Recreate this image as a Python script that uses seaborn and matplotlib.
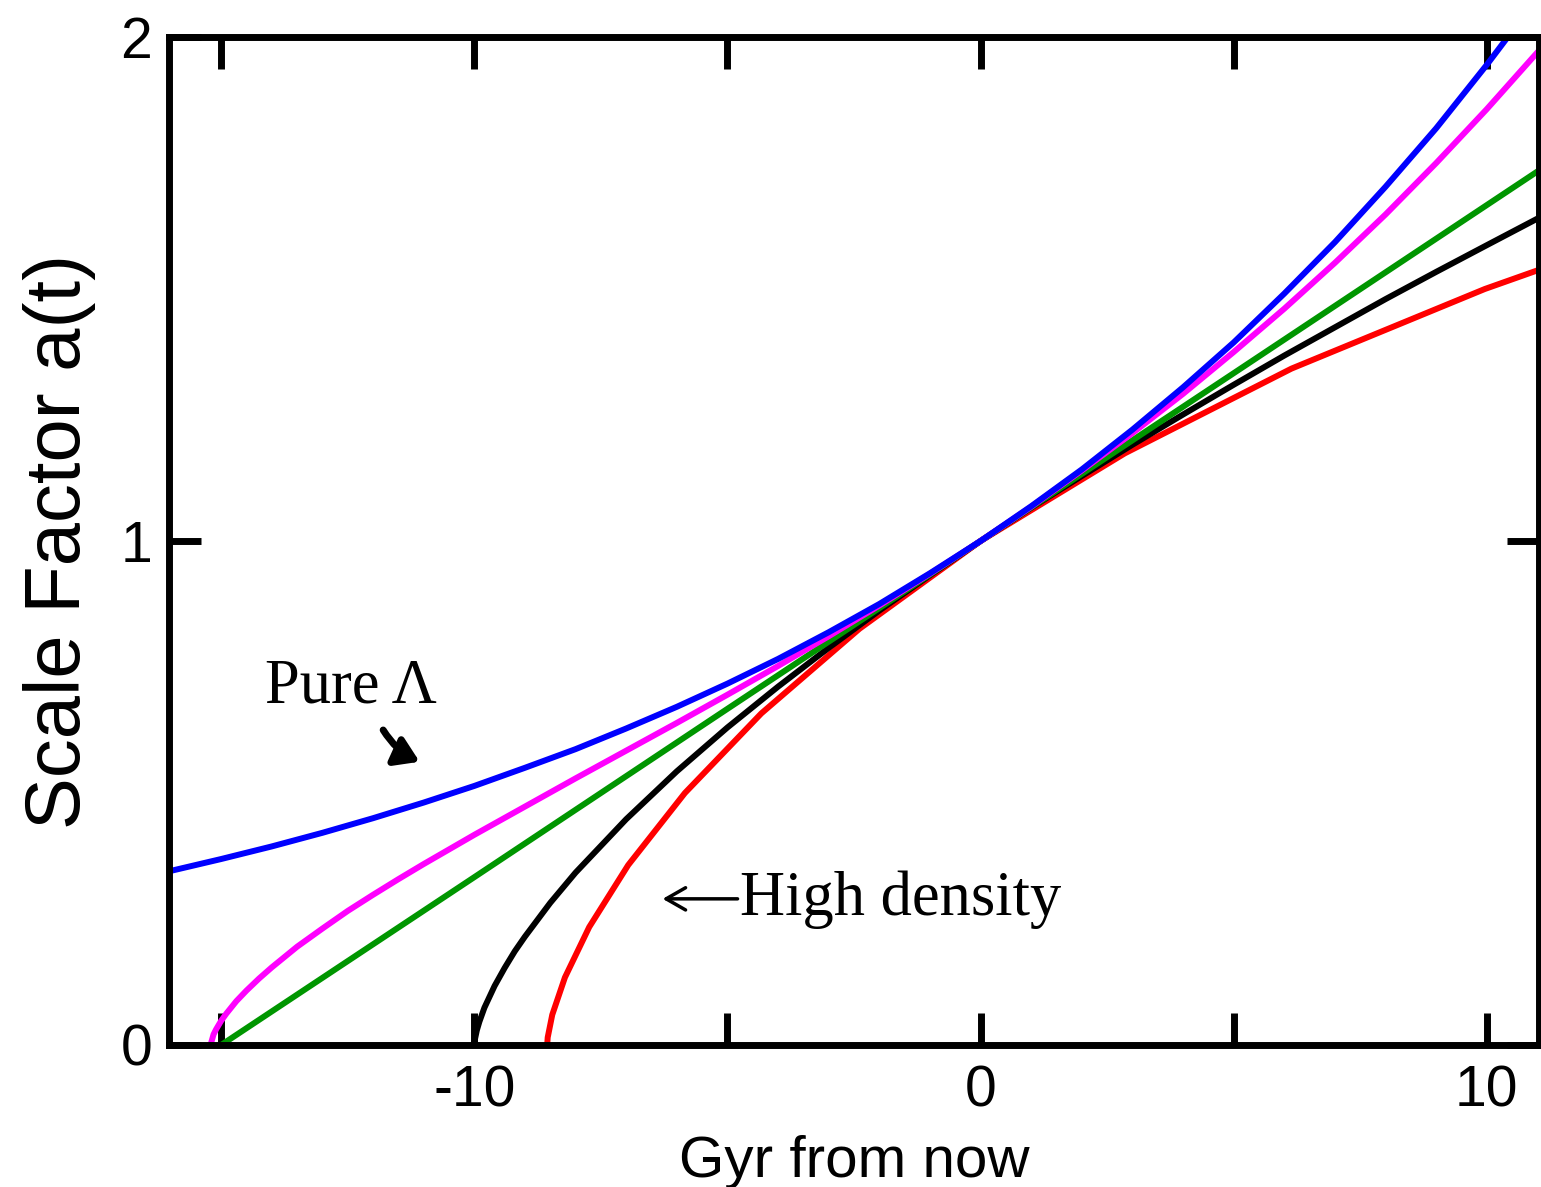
import matplotlib
matplotlib.use("Agg")
import matplotlib.pyplot as plt
import seaborn as sns
import pandas as pd

# ---- data (t in Gyr from now, a = scale factor) ----
red_t = [-8.56, -8.55, -8.46, -8.21, -7.73, -6.96, -5.84, -4.33, -2.39, 0.0, 2.85, 6.14, 9.96, 13.98]
red_a = [0.0, 0.015, 0.060, 0.134, 0.234, 0.357, 0.500, 0.658, 0.826, 1.0, 1.174, 1.342, 1.500, 1.643]

black_t = [-10.0, -9.99, -9.95, -9.9, -9.8, -9.6, -9.4, -9.2, -9.0, -8.5, -8, -7, -6, -5, -4, -3, -2, -1,
           0, 1, 2, 3, 4, 5, 6, 7, 8, 9, 10, 11.1]
black_a = [0.0, 0.010, 0.029, 0.046, 0.074, 0.117, 0.153, 0.186, 0.215, 0.282, 0.342, 0.448, 0.543, 0.630,
           0.711, 0.788, 0.862, 0.932, 1.0, 1.066, 1.129, 1.191, 1.251, 1.310, 1.368, 1.424, 1.480, 1.534,
           1.587, 1.645]

green_t = [-15.0, -10.0, -5.0, 0.0, 5.0, 11.1]
green_a = [0.0, 0.333, 0.667, 1.0, 1.333, 1.74]

magenta_t = [-15.21, -15.15, -15.1, -15.0, -14.9, -14.7, -14.5, -14.25, -14.0, -13.5, -13, -12.5, -12,
             -11.5, -11, -10, -9, -8, -7, -6, -5, -4, -3, -2, -1, 0, 1, 2, 3, 4, 5, 6, 7, 8, 9, 10, 11.1]
magenta_a = [0.0, 0.021, 0.031, 0.048, 0.062, 0.087, 0.108, 0.132, 0.154, 0.195, 0.231, 0.266, 0.298,
             0.329, 0.359, 0.417, 0.473, 0.529, 0.584, 0.639, 0.695, 0.752, 0.811, 0.872, 0.935, 1.0,
             1.068, 1.140, 1.214, 1.292, 1.375, 1.461, 1.552, 1.648, 1.750, 1.857, 1.981]

blue_t = [-16.1, -15, -14, -13, -12, -11, -10, -9, -8, -7, -6, -5, -4, -3, -2, -1, 0, 1, 2, 3, 4, 5, 6,
          7, 8, 9, 10, 11]
blue_a = [0.343, 0.369, 0.394, 0.421, 0.450, 0.481, 0.514, 0.550, 0.587, 0.628, 0.671, 0.717, 0.766,
          0.819, 0.875, 0.936, 1.0, 1.069, 1.142, 1.221, 1.305, 1.394, 1.491, 1.593, 1.703, 1.819, 1.945,
          2.078]

x_ticks = [-15, -10, -5, 0, 5, 10]
x_tick_labels = ["", "-10", "", "0", "", "10"]
y_ticks = [0, 1, 2]
y_tick_labels = ["0", "1", "2"]

series = [
    ("red", red_t, red_a, "#ff0000"),
    ("black", black_t, black_a, "#000000"),
    ("green", green_t, green_a, "#009600"),
    ("magenta", magenta_t, magenta_a, "#ff00ff"),
    ("blue", blue_t, blue_a, "#0000ff"),
]

sns.set_style("white")
plt.rcParams["font.family"] = ["Liberation Sans", "DejaVu Sans"]
plt.rcParams["axes.unicode_minus"] = False
plt.rcParams["text.color"] = "black"
plt.rcParams["axes.labelcolor"] = "black"
plt.rcParams["xtick.color"] = "black"
plt.rcParams["ytick.color"] = "black"

fig = plt.figure(figsize=(15.41, 11.87), dpi=100)
ax = fig.add_axes([169 / 1541, 1 - 1045 / 1187, (1539 - 169) / 1541, (1045 - 37) / 1187])

for name, t, a, col in series:
    df = pd.DataFrame({"t": t, "a": a})
    sns.lineplot(data=df, x="t", y="a", ax=ax, color=col, linewidth=4.3,
                 sort=False, estimator=None, legend=False)

ax.set_xlim(-16.03, 11.03)
ax.set_ylim(0, 2)

ax.set_xticks(x_ticks)
ax.set_xticklabels(x_tick_labels)
ax.set_yticks(y_ticks)
ax.set_yticklabels(y_tick_labels)

for s in ax.spines.values():
    s.set_visible(True)
    s.set_color("black")
    s.set_linewidth(5)

ax.tick_params(axis="both", which="both", direction="in", length=23, width=5,
               top=True, right=True, bottom=True, left=True, color="black",
               labelcolor="black", labelsize=41)
ax.tick_params(axis="x", pad=14)
ax.tick_params(axis="y", pad=12)

ax.set_xlabel("Gyr from now", fontsize=42, labelpad=12, color="black")
ax.set_ylabel("Scale Factor a(t)", fontsize=56, labelpad=18, color="black")

serif = ["Liberation Serif", "DejaVu Serif"]
ax.text(-14.14, 0.679, "Pure \u039b", family=serif, fontsize=45, ha="left", va="baseline",
        color="black")
ax.text(-4.75, 0.258, "High density", family=serif, fontsize=45, ha="left", va="baseline",
        color="black")
# long thin arrow in front of "High density"
ax.annotate("", xy=(-6.28, 0.290), xytext=(-4.80, 0.290),
            arrowprops=dict(arrowstyle="->,head_length=0.7,head_width=0.4",
                            lw=2.5, color="black", mutation_scale=20,
                            shrinkA=0, shrinkB=0))

# thick arrow under "Pure Λ"
ax.annotate("", xy=(-11.08, 0.562), xytext=(-11.80, 0.625),
            arrowprops=dict(arrowstyle="-|>,head_length=0.7,head_width=0.45",
                            lw=5, color="black", mutation_scale=20,
                            shrinkA=0, shrinkB=0,
                            connectionstyle="arc3,rad=0.15"))

fig.savefig("out.png", dpi=100)
